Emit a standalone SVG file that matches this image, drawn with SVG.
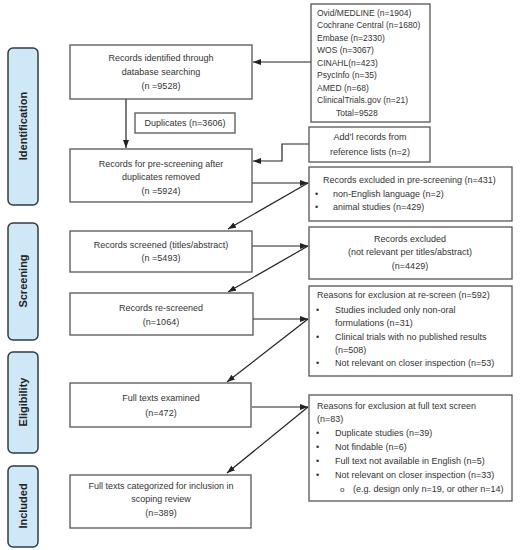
<svg xmlns="http://www.w3.org/2000/svg" width="521" height="550" viewBox="0 0 521 550">
<style>
text{font-family:"Liberation Sans",Arial,sans-serif;font-size:9px;fill:#333}
.c{text-anchor:middle}
.box{fill:#fff;stroke:#555;stroke-width:1.3}
.side{fill:#cfe8f7;stroke:#2f3b48;stroke-width:1.5}
.lab{font-size:11px;font-weight:bold;fill:#222;text-anchor:middle}
.db{font-size:8.5px}
.ln{fill:none;stroke:#222;stroke-width:1.2}
</style>
<defs>
<marker id="ah" markerWidth="8" markerHeight="6" refX="8" refY="3" orient="auto" markerUnits="userSpaceOnUse">
<path d="M0,0 L8,3 L0,6 z" fill="#222"/>
</marker>
</defs>
<rect width="521" height="550" fill="#fff"/>

<g id="side-identification"><rect class="side" x="8" y="48" width="30" height="157" rx="5"/><text class="lab" transform="translate(27,126) rotate(-90)">Identification</text></g>
<g id="side-screening"><rect class="side" x="8" y="223" width="30" height="117" rx="5"/><text class="lab" transform="translate(27,281) rotate(-90)">Screening</text></g>
<g id="side-eligibility"><rect class="side" x="8" y="352" width="30" height="101" rx="5"/><text class="lab" transform="translate(27,402) rotate(-90)">Eligibility</text></g>
<g id="side-included"><rect class="side" x="8" y="466" width="30" height="81" rx="5"/><text class="lab" transform="translate(27,506) rotate(-90)">Included</text></g>

<g id="connectors">
<line class="ln" x1="311" y1="62" x2="253" y2="62" marker-end="url(#ah)"/>
<line class="ln" x1="126" y1="99" x2="126" y2="148" marker-end="url(#ah)"/>
<polyline class="ln" points="309,144 282,144 282,161 253,161" marker-end="url(#ah)"/>
<line class="ln" x1="252" y1="183" x2="308" y2="183" marker-end="url(#ah)"/>
<line class="ln" x1="308" y1="183" x2="228" y2="229" marker-end="url(#ah)"/>
<line class="ln" x1="252" y1="246" x2="308" y2="246" marker-end="url(#ah)"/>
<line class="ln" x1="308" y1="246" x2="228" y2="292" marker-end="url(#ah)"/>
<line class="ln" x1="253" y1="319" x2="308" y2="319" marker-end="url(#ah)"/>
<line class="ln" x1="308" y1="319" x2="227" y2="382" marker-end="url(#ah)"/>
<line class="ln" x1="252" y1="407" x2="308" y2="407" marker-end="url(#ah)"/>
<line class="ln" x1="308" y1="407" x2="227" y2="473" marker-end="url(#ah)"/>
</g>

<g id="n-identified"><rect class="box" x="70" y="45" width="182" height="54"/>
<text class="c" x="161" y="61">Records identified through</text>
<text class="c" x="161" y="75">database searching</text>
<text class="c" x="161" y="89">(n =9528)</text></g>

<g id="n-databases"><rect class="box" x="311" y="4" width="119" height="118"/>
<text class="db" x="317" y="16">Ovid/MEDLINE (n=1904)</text>
<text class="db" x="317" y="28.4">Cochrane Central (n=1680)</text>
<text class="db" x="317" y="40.9">Embase (n=2330)</text>
<text class="db" x="317" y="53.3">WOS (n=3067)</text>
<text class="db" x="317" y="65.8">CINAHL(n=423)</text>
<text class="db" x="317" y="78.2">PsycInfo (n=35)</text>
<text class="db" x="317" y="90.6">AMED (n=68)</text>
<text class="db" x="317" y="103.1">ClinicalTrials.gov (n=21)</text>
<text class="db" x="336" y="115.5">Total=9528</text></g>

<g id="n-duplicates"><rect class="box" x="135" y="113" width="100" height="20"/>
<text class="c" x="185" y="126">Duplicates (n=3606)</text></g>

<g id="n-addl"><rect class="box" x="309" y="127" width="121" height="35"/>
<text class="c" x="370" y="140">Add’l records from</text>
<text class="c" x="370" y="155">reference lists (n=2)</text></g>

<g id="n-prescreen"><rect class="box" x="70" y="149" width="182" height="53"/>
<text class="c" x="161" y="167">Records for pre-screening after</text>
<text class="c" x="161" y="180">duplicates removed</text>
<text class="c" x="161" y="194">(n =5924)</text></g>

<g id="n-excl1"><rect class="box" x="309" y="167" width="203" height="54"/>
<text x="323" y="183">Records excluded in pre-screening (n=431)</text>
<text x="315" y="197">•</text><text x="333" y="197">non-English language (n=2)</text>
<text x="315" y="210">•</text><text x="333" y="210">animal studies (n=429)</text></g>

<g id="n-screened"><rect class="box" x="70" y="231" width="182" height="41"/>
<text class="c" x="161" y="248">Records screened (titles/abstract)</text>
<text class="c" x="161" y="261">(n =5493)</text></g>

<g id="n-excl2"><rect class="box" x="309" y="227" width="203" height="52"/>
<text class="c" x="410" y="242">Records excluded</text>
<text class="c" x="410" y="255">(not relevant per titles/abstract)</text>
<text class="c" x="410" y="269">(n=4429)</text></g>

<g id="n-rescreened"><rect class="box" x="70" y="293" width="183" height="42"/>
<text class="c" x="161" y="311">Records re-screened</text>
<text class="c" x="161" y="325">(n=1064)</text></g>

<g id="n-excl3"><rect class="box" x="309" y="286" width="203" height="90"/>
<text x="317" y="298">Reasons for exclusion at re-screen (n=592)</text>
<text x="316" y="313">•</text><text x="335" y="313">Studies included only non-oral</text>
<text x="335" y="326">formulations (n=31)</text>
<text x="316" y="340">•</text><text x="335" y="340">Clinical trials with no published results</text>
<text x="335" y="353">(n=508)</text>
<text x="316" y="366">•</text><text x="335" y="366">Not relevant on closer inspection (n=53)</text></g>

<g id="n-fulltext"><rect class="box" x="70" y="383" width="181" height="44"/>
<text class="c" x="161" y="401">Full texts examined</text>
<text class="c" x="161" y="416">(n=472)</text></g>

<g id="n-excl4"><rect class="box" x="309" y="395" width="203" height="106"/>
<text x="317" y="409">Reasons for exclusion at full text screen</text>
<text x="317" y="422">(n=83)</text>
<text x="316" y="436">•</text><text x="335" y="436">Duplicate studies (n=39)</text>
<text x="316" y="450">•</text><text x="335" y="450">Not findable (n=6)</text>
<text x="316" y="464">•</text><text x="335" y="464">Full text not available in English (n=5)</text>
<text x="316" y="478">•</text><text x="335" y="478">Not relevant on closer inspection (n=33)</text>
<text x="340" y="492" style="font-size:8px">o</text><text x="353" y="492">(e.g. design only n=19, or other n=14)</text></g>

<g id="n-included"><rect class="box" x="70" y="475" width="181" height="53"/>
<text class="c" x="161" y="489">Full texts categorized for inclusion in</text>
<text class="c" x="161" y="502">scoping review</text>
<text class="c" x="161" y="516">(n=389)</text></g>
</svg>
